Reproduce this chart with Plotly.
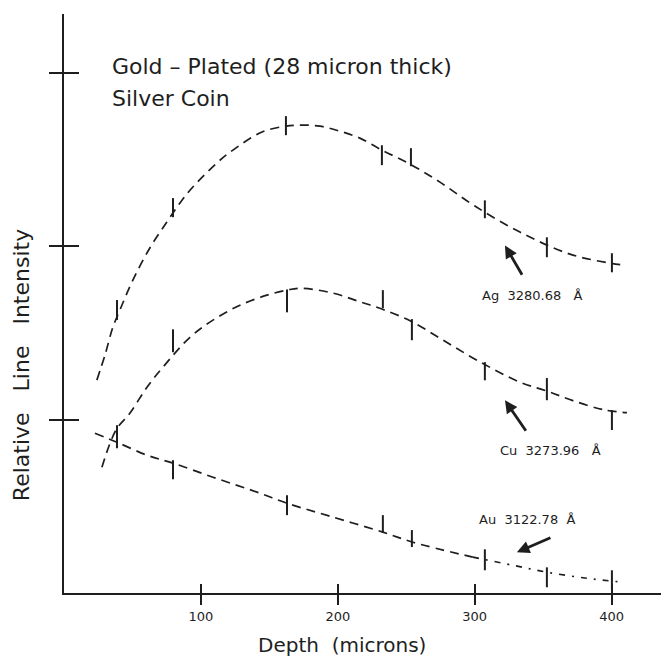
import plotly.graph_objects as go

# ---------------- data ----------------
# Ag 3280.68 A
ag_depth = [38.7, 79.6, 162.1, 232.2, 253.4, 307.4, 352.7, 400.2]
ag_low = [1.575, 2.168, 2.641, 2.468, 2.462, 2.162, 1.937, 1.850]
ag_high = [1.690, 2.278, 2.751, 2.583, 2.566, 2.265, 2.052, 1.960]
ag_fit_x = [24.0, 29.9, 35.7, 40.8, 50.3, 62.7, 75.1, 84.6, 94.1, 112.4, 123.4, 144.6, 162.1,
            172.3, 186.9, 201.5, 216.1, 232.2, 252.7, 274.6, 300.1, 333.0, 369.5, 398.7, 409.7]
ag_fit_y = [1.228, 1.372, 1.533, 1.632, 1.805, 1.990, 2.140, 2.249, 2.342, 2.486, 2.555, 2.659, 2.693,
            2.699, 2.693, 2.664, 2.624, 2.555, 2.474, 2.370, 2.232, 2.082, 1.955, 1.903, 1.891]

# Cu 3273.96 A
cu_depth = [38.7, 79.6, 162.9, 232.9, 254.1, 307.4, 352.7, 400.2]
cu_low = [0.880, 1.389, 1.619, 1.643, 1.458, 1.227, 1.112, 0.940]
cu_high = [0.968, 1.521, 1.751, 1.747, 1.580, 1.332, 1.240, 1.055]
cu_fit_x = [27.7, 37.9, 48.1, 60.6, 72.2, 92.0, 108.8, 128.5, 148.2, 162.8, 172.3,
            196.4, 216.1, 232.2, 253.4, 276.8, 301.6, 333.0, 352.7, 371.7, 393.6, 411.2]
cu_fit_y = [0.725, 0.939, 1.037, 1.187, 1.302, 1.475, 1.574, 1.660, 1.718, 1.747, 1.758,
            1.730, 1.680, 1.638, 1.568, 1.459, 1.343, 1.216, 1.165, 1.110, 1.058, 1.040]

# Au 3122.78 A
au_depth = [38.7, 79.6, 162.9, 232.9, 254.1, 307.4, 352.7, 400.2]
au_low = [0.835, 0.656, 0.449, 0.346, 0.265, 0.131, 0.033, 0.016]
au_high = [0.927, 0.766, 0.564, 0.449, 0.363, 0.252, 0.148, 0.131]
au_fit_x = [22.6, 38.6, 60.6, 79.6, 108.8, 143.1, 162.8, 194.2, 232.9, 254.8, 298.6]
au_fit_y = [0.922, 0.870, 0.795, 0.749, 0.668, 0.576, 0.518, 0.443, 0.351, 0.293, 0.207]
au_tail_x = [298.6, 327.8, 352.7, 381.9, 408.2]
au_tail_y = [0.207, 0.160, 0.120, 0.085, 0.062]

x_ticks = [100, 200, 300, 400]
x_tick_labels = ["100", "200", "300", "400"]
y_ticks = [1, 2, 3]

INK = "#1e1e1e"
FONT = "DejaVu Sans"

fig = go.Figure()


def fit_line(xs, ys, dash):
    fig.add_trace(go.Scatter(
        x=xs, y=ys, mode="lines", line=dict(color=INK, width=1.7, dash=dash, shape="spline", smoothing=1.0),
        hoverinfo="skip", showlegend=False))


def bars(xs, lo, hi):
    mid = [(a + b) / 2 for a, b in zip(lo, hi)]
    half = [(b - a) / 2 for a, b in zip(lo, hi)]
    fig.add_trace(go.Scatter(
        x=xs, y=mid, mode="markers", marker=dict(size=1, color="rgba(0,0,0,0)"),
        error_y=dict(type="data", array=half, visible=True, color=INK, thickness=2, width=0),
        xaxis="x2", yaxis="y2", hoverinfo="skip", showlegend=False))


fit_line(ag_fit_x, ag_fit_y, "9px,6px")
fit_line(cu_fit_x, cu_fit_y, "9px,6px")
fit_line(au_fit_x, au_fit_y, "9px,6px")
fit_line(au_tail_x, au_tail_y, "6px,7px,2px,7px")
bars(ag_depth, ag_low, ag_high)
bars(cu_depth, cu_low, cu_high)
bars(au_depth, au_low, au_high)

annotations = [
    dict(text="Gold – Plated (28 micron thick)", x=33.6, y=3.039, xanchor="left", yanchor="middle",
         showarrow=False, font=dict(size=22)),
    dict(text="Silver Coin", x=33.6, y=2.854, xanchor="left", yanchor="middle",
         showarrow=False, font=dict(size=22)),
    dict(text="Ag\u00a0\u00a03280.68\u00a0\u00a0\u00a0Å", x=303.8, y=1.718, xanchor="left", yanchor="middle",
         showarrow=False, font=dict(size=13)),
    dict(text="Cu\u00a0\u00a03273.96\u00a0\u00a0\u00a0Å", x=317.0, y=0.823, xanchor="left", yanchor="middle",
         showarrow=False, font=dict(size=13)),
    dict(text="Au\u00a0\u00a03122.78\u00a0\u00a0Å", x=301.6, y=0.425, xanchor="left", yanchor="middle",
         showarrow=False, font=dict(size=13)),
    dict(text="Depth\u00a0\u00a0(microns)", x=203, y=-0.0905, xref="x", yref="paper",
         xanchor="center", yanchor="middle", showarrow=False, font=dict(size=20)),
    dict(text="Relative\u00a0\u00a0 Line\u00a0\u00a0 Intensity", x=-0.069, y=0.394, xref="paper", yref="paper",
         xanchor="center", yanchor="middle", textangle=-90, showarrow=False, font=dict(size=22)),
]

arrows = [
    (322.1, 2.005, 335.2, 1.827),
    (322.1, 1.112, 338.1, 0.927),
    (330.8, 0.235, 356.4, 0.322),
]
for hx, hy, tx, ty in arrows:
    annotations.append(dict(text="", x=hx, y=hy, ax=tx, ay=ty, xref="x", yref="y", axref="x", ayref="y",
                            showarrow=True, arrowhead=2, arrowsize=0.9, arrowwidth=2.8, arrowcolor=INK))

axis_common = dict(showgrid=False, zeroline=False, color=INK)
# the page body adds an 8 px offset, so the figure is sized to fill the rest of the window
fig.update_layout(
    width=661, height=650,
    margin=dict(l=56, r=0, t=6, b=65),
    paper_bgcolor="white", plot_bgcolor="white",
    font=dict(family=FONT, color=INK),
    showlegend=False,
    xaxis=dict(range=[0, 441.9], tickvals=x_ticks, ticktext=x_tick_labels, ticks="outside", ticklen=10,
               tickwidth=2, tickcolor=INK, showline=True, linewidth=2, linecolor=INK,
               tickfont=dict(size=13, family=FONT, color=INK), **axis_common),
    yaxis=dict(range=[0, 3.34], tickvals=y_ticks, showticklabels=False, ticks="outside", ticklen=13,
               tickwidth=2, tickcolor=INK, showline=True, linewidth=2, linecolor=INK, **axis_common),
    xaxis2=dict(overlaying="x", matches="x", anchor="y2", side="bottom", tickvals=x_ticks,
                showticklabels=False, ticks="inside", ticklen=9, tickwidth=2, tickcolor=INK,
                showline=False, **axis_common),
    yaxis2=dict(overlaying="y", matches="y", anchor="x2", side="left", tickvals=y_ticks,
                showticklabels=False, ticks="inside", ticklen=15, tickwidth=2, tickcolor=INK,
                showline=False, **axis_common),
    annotations=annotations,
)

fig.write_html("out.html")
